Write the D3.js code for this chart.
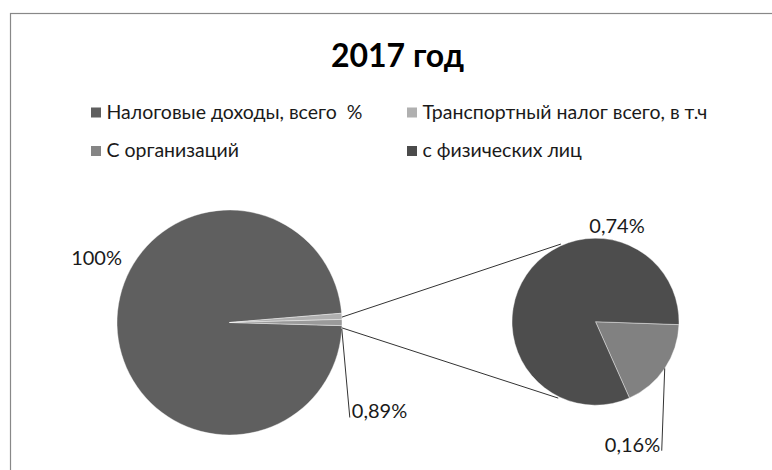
<!DOCTYPE html>
<head>
<meta charset="utf-8">
<script src="https://cdn.jsdelivr.net/npm/d3@7"></script>
<style>
  body { margin: 0; background: #fff; }
  text { font-family: Lato, "Open Sans", sans-serif; fill: #1a1a1a; white-space: pre; }
</style>
</head>
<body>
<svg id="chart" width="772" height="470"></svg>
<script>
var title = "2017 год"
var legendLabels = ["Налоговые доходы, всего  %", "Транспортный налог всего, в т.ч", "С организаций", "с физических лиц"]
var legendColors = ["#5f5f5f", "#b0b0b0", "#858585", "#4b4b4b"]

// left pie: total tax income and transport tax
var mainValues = [100, 0.89]
var mainLabels = ["100%", "0,89%"]
// right pie: transport tax split (org, individuals)
var subValues = [0.16, 0.74]
var subLabels = ["0,16%", "0,74%"]

var svg = d3.select('#chart')

// frame (only top and left edges show)
svg.append('rect')
  .attr('x', 10.5).attr('y', 13.5)
  .attr('width', 900).attr('height', 600)
  .attr('fill', 'none').attr('stroke', '#888').attr('stroke-width', 1.2)

svg.append('text')
  .attr('x', 397.5).attr('y', 67)
  .attr('text-anchor', 'middle')
  .style('font-size', '32px').style('font-weight', 'bold')
  .style('fill', '#000')
  .text(title)

// legend, 2 columns
var legend = svg.selectAll('g.leg').data(legendLabels)
  .enter().append('g')
  .attr('class', 'leg')
  .attr('transform', function (d, i) { return 'translate(' + (91 + (i % 2) * 316) + ',' + (107.5 + Math.floor(i / 2) * 38.5) + ')' })
legend.append('rect')
  .attr('width', 10).attr('height', 10)
  .attr('fill', function (d, i) { return legendColors[i] })
legend.append('text')
  .attr('x', 15.5).attr('y', 11)
  .style('font-size', '19.5px')
  .text(function (d) { return d })

// left pie
var other = d3.sum(subValues)
var leftVals = mainValues.concat([other])
var leftTot = d3.sum(leftVals)
var leftC = [229.5, 322.5], leftR = 112.5
var leftStart = Math.PI / 2 + Math.PI * other / leftTot - 2 * Math.PI
var leftArcs = d3.pie().sort(null)
  .startAngle(leftStart).endAngle(leftStart + 2 * Math.PI)(leftVals)
var leftColors = ["#5f5f5f", "#b0b0b0", "#9a9a9a"]
var arcL = d3.arc().innerRadius(0).outerRadius(leftR)

var gL = svg.append('g').attr('transform', 'translate(' + leftC + ')')
gL.selectAll('path').data(leftArcs).enter().append('path')
  .attr('d', arcL)
  .attr('fill', function (d, i) { return leftColors[i] })
  .attr('stroke', '#fff').attr('stroke-width', 0.4)

// right pie
var rightC = [595.5, 321.7], rightR = 83.5
var subStart = 92 * Math.PI / 180
var rightArcs = d3.pie().sort(null)
  .startAngle(subStart).endAngle(subStart + 2 * Math.PI)(subValues)
var rightColors = ["#818181", "#4d4d4d"]
var arcR = d3.arc().innerRadius(0).outerRadius(rightR)

var gR = svg.append('g').attr('transform', 'translate(' + rightC + ')')
gR.selectAll('path').data(rightArcs).enter().append('path')
  .attr('d', arcR)
  .attr('fill', function (d, i) { return rightColors[i] })
  .attr('stroke', '#fff').attr('stroke-width', 0.4)

function onCircle(c, r, a) {
  return [c[0] + r * Math.sin(a), c[1] - r * Math.cos(a)]
}

// connector lines from "other" wedge to second pie
var o = leftArcs[2]
var conn = [
  [onCircle(leftC, leftR, o.startAngle - 0.02), onCircle(rightC, rightR + 1.5, -24 * Math.PI / 180)],
  [onCircle(leftC, leftR, o.endAngle + 0.02), onCircle(rightC, rightR + 1.5, 206 * Math.PI / 180)]
]
svg.selectAll('line.conn').data(conn).enter().append('line')
  .attr('class', 'conn')
  .attr('x1', function (d) { return d[0][0] }).attr('y1', function (d) { return d[0][1] })
  .attr('x2', function (d) { return d[1][0] }).attr('y2', function (d) { return d[1][1] })
  .attr('stroke', '#333').attr('stroke-width', 1)

// labels
var lblSize = '20px'
svg.append('text')
  .attr('x', leftC[0] - 107.5).attr('y', leftC[1] - 57.5)
  .attr('text-anchor', 'end').style('font-size', lblSize)
  .text(mainLabels[0])

var p89 = onCircle(leftC, leftR, o.endAngle + 0.03)
svg.append('line')
  .attr('x1', p89[0]).attr('y1', p89[1])
  .attr('x2', p89[0] + 8).attr('y2', leftC[1] + 95)
  .attr('stroke', '#333').attr('stroke-width', 1)
svg.append('text')
  .attr('x', p89[0] + 10).attr('y', leftC[1] + 95)
  .style('font-size', lblSize)
  .text(mainLabels[1])

var p16 = onCircle(rightC, rightR, (rightArcs[0].startAngle + rightArcs[0].endAngle) / 2)
svg.append('line')
  .attr('x1', p16[0]).attr('y1', p16[1])
  .attr('x2', p16[0] - 3).attr('y2', rightC[1] + 129)
  .attr('stroke', '#333').attr('stroke-width', 1)
svg.append('text')
  .attr('x', p16[0] - 4.5).attr('y', rightC[1] + 130)
  .attr('text-anchor', 'end').style('font-size', lblSize)
  .text(subLabels[0])

svg.append('text')
  .attr('x', rightC[0] + 21.5).attr('y', rightC[1] - 88.5)
  .attr('text-anchor', 'middle').style('font-size', lblSize)
  .text(subLabels[1])
</script>
</body>
